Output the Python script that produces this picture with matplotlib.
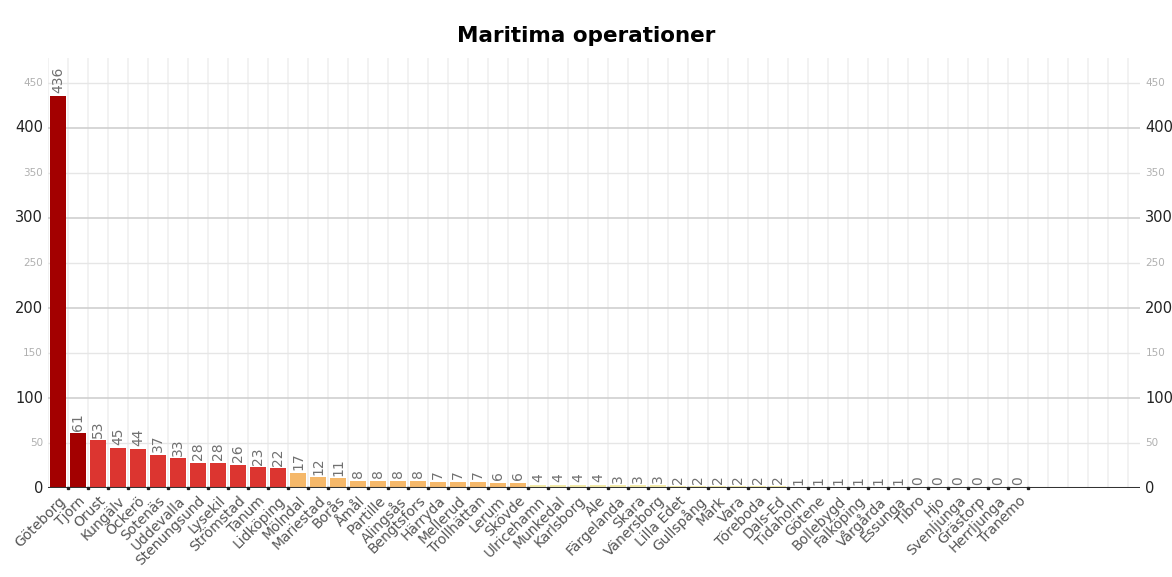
import matplotlib
matplotlib.use("Agg")
import matplotlib.pyplot as plt
import numpy as np

categories = ["Göteborg", "Tjörn", "Orust", "Kungälv", "Öckerö", "Sotenäs", "Uddevalla",
              "Stenungsund", "Lysekil", "Strömstad", "Tanum", "Lidköping", "Mölndal",
              "Mariestad", "Borås", "Åmål", "Partille", "Alingsås", "Bengtsfors", "Härryda",
              "Mellerud", "Trollhättan", "Lerum", "Skövde", "Ulricehamn", "Munkedal",
              "Karlsborg", "Ale", "Färgelanda", "Skara", "Vänersborg", "Lilla Edet",
              "Gullspång", "Mark", "Vara", "Töreboda", "Dals-Ed", "Tidaholm", "Götene",
              "Bollebygd", "Falköping", "Vårgårda", "Essunga", "Tibro", "Hjo", "Svenljunga",
              "Grästorp", "Herrljunga", "Tranemo"]
values = [436, 61, 53, 45, 44, 37, 33, 28, 28, 26, 23, 22, 17, 12, 11, 8, 8, 8, 8, 7,
          7, 7, 6, 6, 4, 4, 4, 4, 3, 3, 3, 2, 2, 2, 2, 2, 2, 1, 1, 1, 1, 1, 1, 0, 0, 0,
          0, 0, 0]
major_ticks = [0, 100, 200, 300, 400]
minor_ticks = [50, 150, 250, 350, 450]


def color_for(v):
    if v >= 60:
        return "#a30000"
    if v >= 20:
        return "#dc3530"
    if v >= 5:
        return "#f5b86a"
    return "#f3eba8"


fig = plt.figure(figsize=(11.72, 5.77), dpi=100)
ax = fig.add_axes([0.041, 0.154, 0.932, 0.746])
x = np.arange(len(categories))
ax.bar(x, values, width=0.8, color=[color_for(v) for v in values], zorder=3)

ax.set_xlim(-0.5, 54.1)
ax.set_ylim(0, 478)

# gridlines
for b in np.arange(0.5, 54.1, 1.0):
    ax.axvline(b, color="#f0f0f0", lw=1.2, zorder=1)
ax.axvline(-0.5, color="#f0f0f0", lw=1.2, zorder=1)
for t in major_ticks[1:]:
    ax.axhline(t, color="#d0d0d0", lw=1.2, zorder=2)
for t in minor_ticks:
    ax.axhline(t, color="#e6e6e6", lw=1.0, zorder=2)
ax.axhline(0, color="#333333", lw=2.2, zorder=4)
# tick marks at category boundaries
ax.plot(np.arange(0.5, len(categories) + 0.5, 1.0), np.zeros(len(categories)),
        ls="none", marker="s", ms=1.8, color="#222222", zorder=5, clip_on=False)

for s in ax.spines.values():
    s.set_visible(False)

ax.set_xticks(x)
ax.set_xticklabels(categories, rotation=45, ha="right", rotation_mode="anchor",
                   fontsize=10, color="#555555")
ax.tick_params(axis="x", length=0, pad=4)
ax.set_yticks([])

# y labels left/right
for t in major_ticks:
    ax.text(-0.75, t, str(t), ha="right", va="center", fontsize=10.5, color="#222222")
    ax.text(54.35, t, str(t), ha="left", va="center", fontsize=10.5, color="#222222")
for t in minor_ticks:
    ax.text(-0.75, t, str(t), ha="right", va="center", fontsize=7.5, color="#b0b0b0")
    ax.text(54.35, t, str(t), ha="left", va="center", fontsize=7.5, color="#b0b0b0")

# value labels
for xi, v in zip(x, values):
    ax.text(xi, v + 3, str(v), rotation=90, ha="center", va="bottom", fontsize=10,
            color="#707070", zorder=6)

fig.suptitle("Maritima operationer", fontsize=15.5, fontweight="bold", y=0.955)
fig.savefig("out.png", dpi=100)
